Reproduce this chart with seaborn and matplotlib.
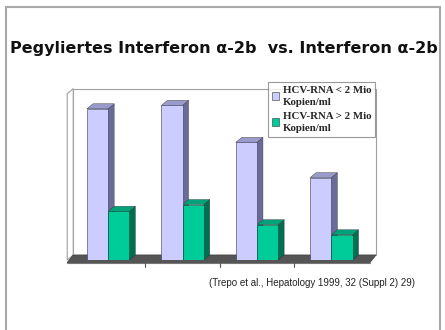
import matplotlib
matplotlib.use("Agg")
import matplotlib.pyplot as plt
from matplotlib.patches import Polygon, Rectangle
from matplotlib.lines import Line2D
import pandas as pd
import seaborn as sns

# Response rates (%) per study group
groups = ["1", "2", "3", "4"]
series_names = ["HCV-RNA < 2 Mio\nKopien/ml", "HCV-RNA > 2 Mio\nKopien/ml"]
low_load = [90, 92, 70, 49]
high_load = [29, 33, 21, 15]
title_text = "Pegyliertes Interferon \u03b1-2b  vs. Interferon \u03b1-2b"
source_text = "(Trepo et al., Hepatology 1999, 32 (Suppl 2) 29)"

front_colors = ["#CCCCFF", "#00CC99"]
side_colors = ["#6B6B99", "#006F52"]
top_colors = ["#9A9ACC", "#00A27A"]

df = pd.DataFrame({
    "group": groups * 2,
    "value": low_load + high_load,
    "series": [series_names[0]] * 4 + [series_names[1]] * 4,
})

sns.set_style("white")
plt.rcParams["font.family"] = ["Liberation Sans", "DejaVu Sans"]

fig = plt.figure(figsize=(4.45, 3.3), dpi=100)
ax = fig.add_axes([65 / 445, 70 / 330, 305 / 445, 168 / 330])

sns.barplot(data=df, x="group", y="value", hue="series", palette=front_colors,
            width=0.57, saturation=1, ax=ax, legend=False, zorder=3)

ax.set_xlim(-0.58, 3.52)
ax.set_ylim(0, 100)
for s in ax.spines.values():
    s.set_visible(False)
ax.set_xticks([])
ax.set_yticks([])
ax.set_xlabel("")
ax.set_ylabel("")
ax.patch.set_alpha(0)

# depth of the pseudo-3D extrusion in data units
dx = 6 / 74.3
dy = 5 / 1.68
x0, x1 = -0.55, 3.52
ytop = 100

# back wall, side wall and floor
ax.add_patch(Rectangle((x0 + dx, dy), x1 - x0, ytop - dy + 2, facecolor="white",
                       edgecolor="#A0A0A0", lw=0.8, zorder=0, clip_on=False))
ax.add_patch(Polygon([(x0, 0), (x0 + dx, dy), (x0 + dx, ytop + 2), (x0, ytop + 2 - dy)],
                     closed=True, facecolor="white", edgecolor="#A0A0A0", lw=0.8,
                     zorder=0.5, clip_on=False))
ax.add_patch(Polygon([(x0, -1.5), (x1, -1.5), (x1 + dx, dy), (x0 + dx, dy)],
                     closed=True, facecolor="#555555", edgecolor="#444444", lw=0.6,
                     zorder=1, clip_on=False))
ax.add_line(Line2D([x0, x1], [-1.5, -1.5], color="#777777", lw=0.8, zorder=1.5,
                   clip_on=False))
for t in [0.5, 1.5, 2.5]:
    ax.add_line(Line2D([t, t], [-1.5, -4], color="#555555", lw=0.8, clip_on=False))

# side and top faces for each bar
for i, bar in enumerate(ax.patches[:8]):
    k = 0 if i < 4 else 1
    bx, bw, bh = bar.get_x(), bar.get_width(), bar.get_height()
    bar.set_edgecolor("#333355" if k == 0 else "#004433")
    bar.set_linewidth(0.4)
    side = Polygon([(bx + bw, 0), (bx + bw + dx, dy), (bx + bw + dx, bh + dy), (bx + bw, bh)],
                   closed=True, facecolor=side_colors[k], edgecolor="#333333", lw=0.3, zorder=2.9)
    top = Polygon([(bx, bh), (bx + bw, bh), (bx + bw + dx, bh + dy), (bx + dx, bh + dy)],
                  closed=True, facecolor=top_colors[k], edgecolor="#333333", lw=0.3, zorder=2.9)
    ax.add_patch(side)
    ax.add_patch(top)

# legend
handles = [Rectangle((0, 0), 1, 1, facecolor=front_colors[j], edgecolor="#333333", lw=0.4)
           for j in range(2)]
leg = fig.legend(handles, series_names, loc="upper left",
                 bbox_to_anchor=(268 / 445, 1 - 82 / 330), frameon=True,
                 prop={"family": ["Liberation Serif"], "weight": "bold", "size": 7.8},
                 handlelength=0.7, handleheight=0.7, handletextpad=0.3,
                 borderpad=0.35, labelspacing=0.45, fancybox=False, borderaxespad=0)
leg.get_frame().set_edgecolor("#808080")
leg.get_frame().set_linewidth(0.8)
for txt in leg.get_texts():
    txt.set_linespacing(1.45)

fig.text(224 / 445, 1 - 48 / 330, title_text, ha="center", va="center",
         fontsize=11.5, fontweight="bold", color="#111111",
         family=["DejaVu Sans"])
fig.text(415 / 445, 1 - 283 / 330, source_text, ha="right", va="center",
         fontsize=7, color="#222222")

# slide frame
frame_kw = dict(color="#A8A8A8", lw=1.5, transform=fig.transFigure)
fig.add_artist(Line2D([6 / 445, 6 / 445], [0, 1 - 7 / 330], **frame_kw))
fig.add_artist(Line2D([6 / 445, 440 / 445], [1 - 7 / 330, 1 - 7 / 330], **frame_kw))
fig.add_artist(Line2D([440 / 445, 440 / 445], [0, 1 - 7 / 330], **frame_kw))

fig.savefig("out.png", dpi=100)
